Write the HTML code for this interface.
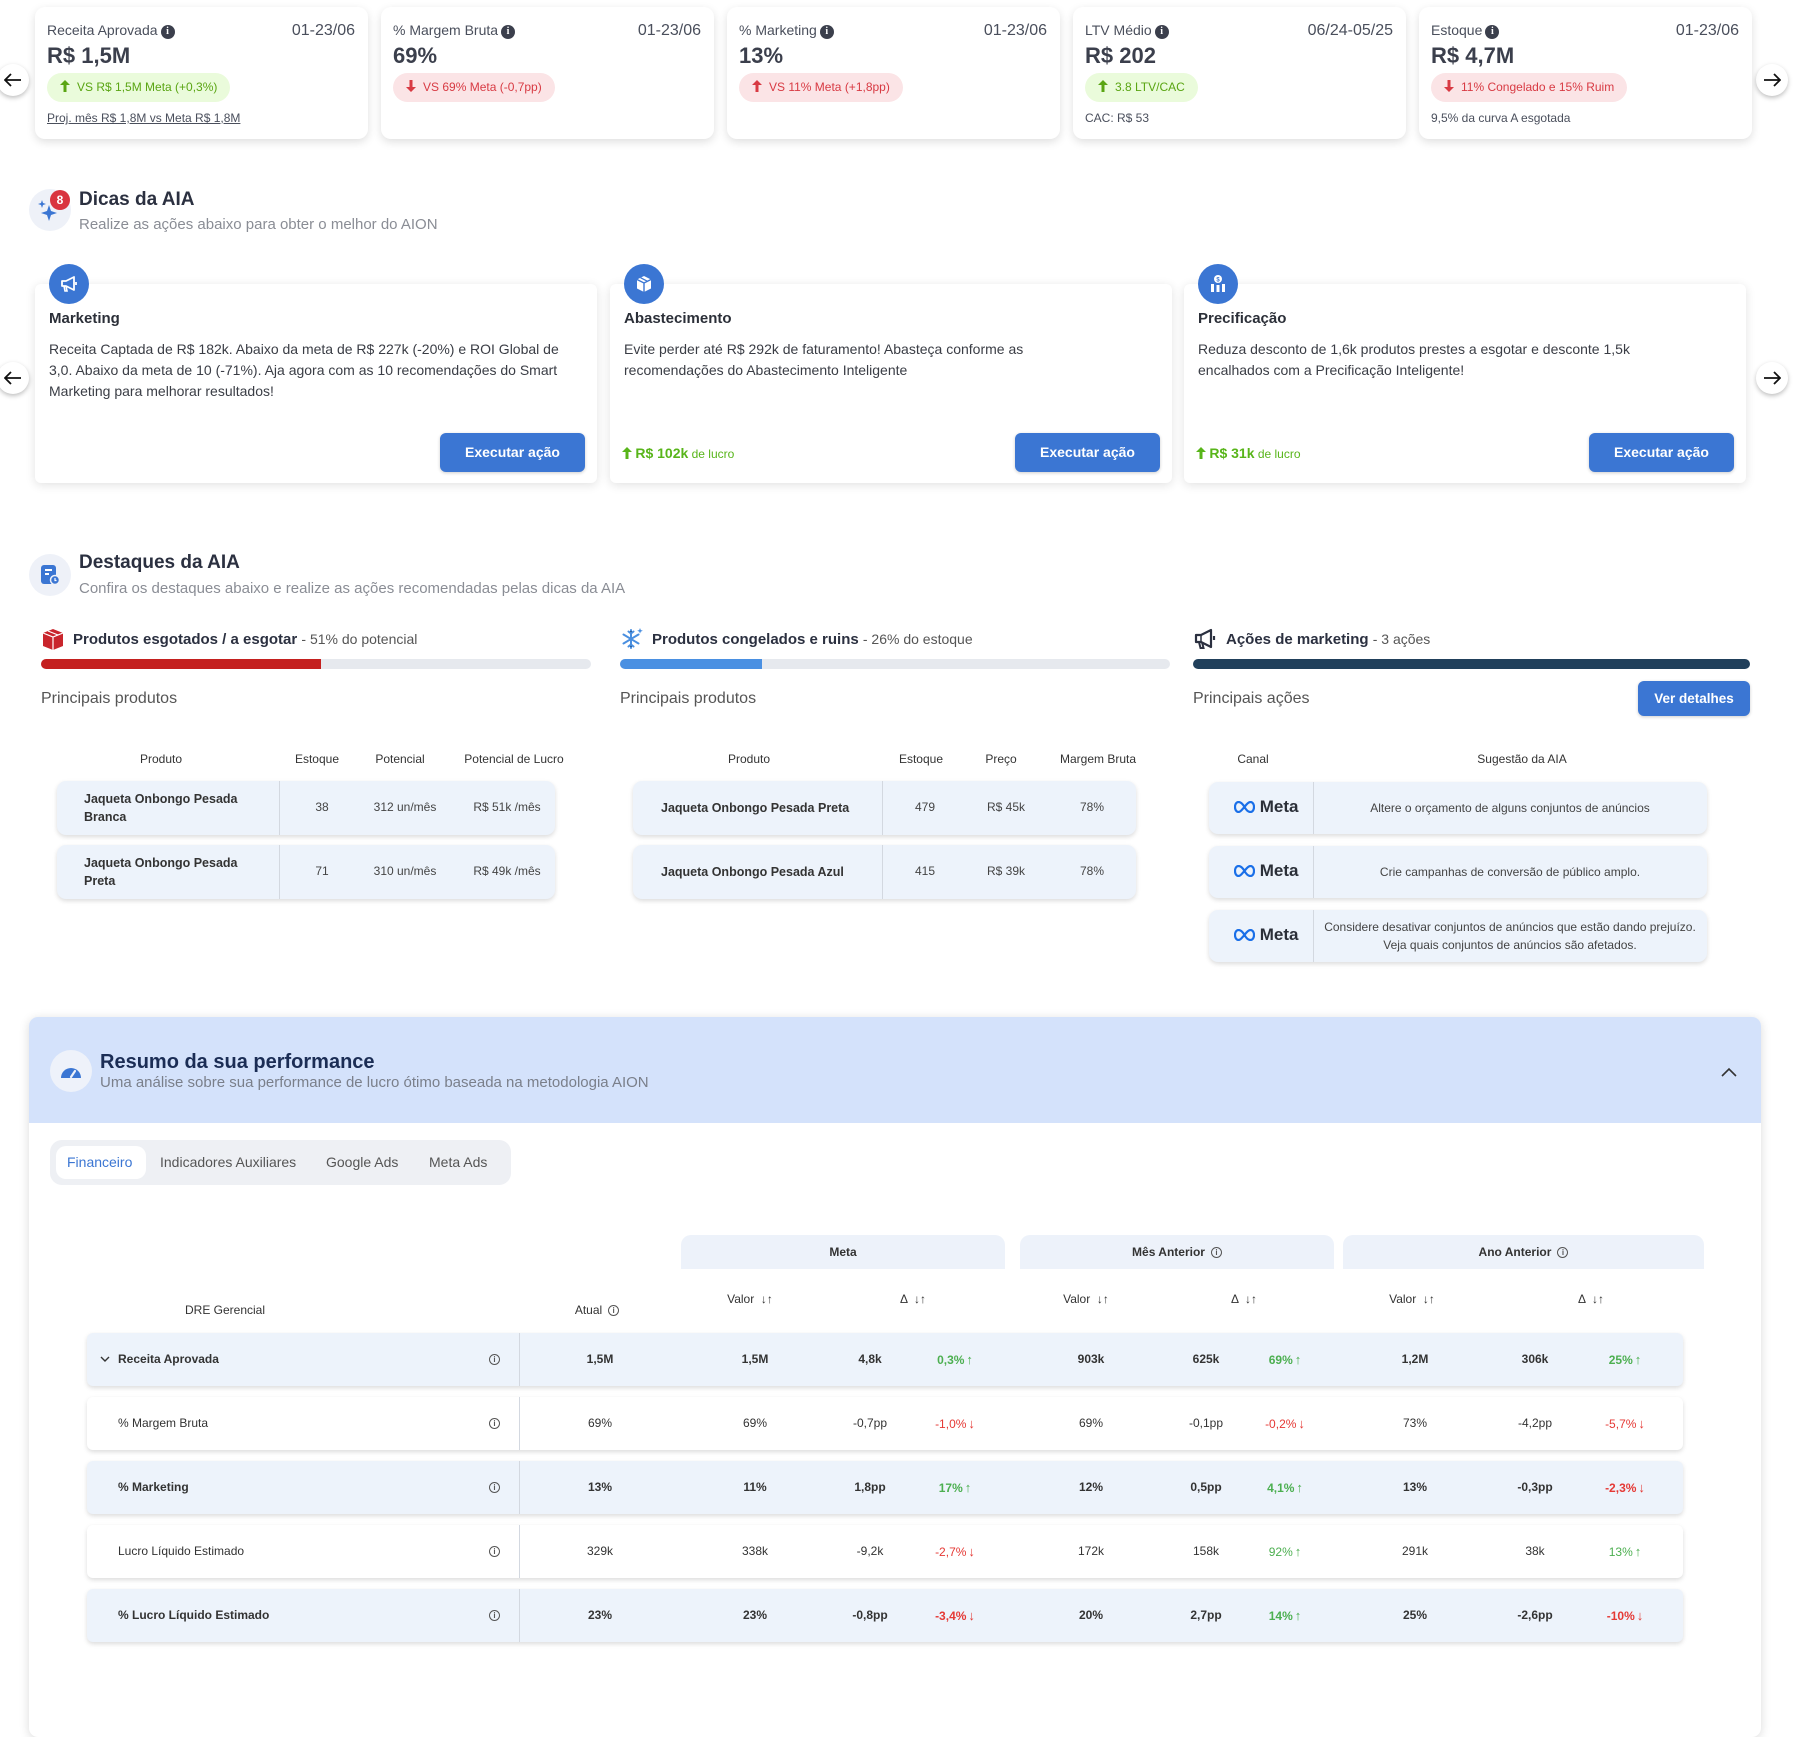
<!DOCTYPE html>
<html><head><meta charset="utf-8">
<style>
*{margin:0;padding:0;box-sizing:border-box}
body{width:1802px;height:1692px;overflow:hidden;background:#fff;font-family:"Liberation Sans",sans-serif;color:#333;position:relative}
.a{position:absolute}
.nav{width:32px;height:32px;border-radius:50%;background:#fff;box-shadow:0 2px 5px rgba(0,0,0,.25);display:flex;align-items:center;justify-content:center}
.kc{top:7px;width:333px;height:132px;background:#fff;border-radius:10px;box-shadow:0 3px 9px rgba(0,0,0,.13)}
.kl{left:12px;top:15px;font-size:14px;color:#4a4f5c;line-height:16px;white-space:nowrap}
.kd{right:13px;top:15px;font-size:16px;color:#4a4f5c;line-height:18px}
.kv{left:12px;top:36px;font-size:22px;font-weight:bold;color:#3b3f4c;line-height:26px}
.pill{left:12px;top:66px;height:29px;border-radius:15px;padding:0 13px 0 13px;font-size:12px;line-height:29px;white-space:nowrap}
.pill svg{vertical-align:-1px;margin-right:7px}
.g{background:#eafbdb;color:#5aa513}
.r{background:#fbe4e6;color:#d83a43}
.kf{left:12px;top:104px;font-size:12px;color:#4a4f5c;line-height:14px;white-space:nowrap}
.ii{display:inline-block;width:14px;height:14px;border-radius:50%;background:#3b3f4c;color:#fff;font-size:10px;font-weight:bold;text-align:center;line-height:14px;vertical-align:1px;margin-left:3px;font-family:"Liberation Serif",serif}
.io{display:inline-block;width:11px;height:11px;border-radius:50%;border:1.2px solid #555;color:#555;font-size:8px;font-weight:bold;text-align:center;line-height:9px;vertical-align:1px;margin-left:6px}
.rio{position:absolute;left:402px;top:21px;width:11px;height:11px;border-radius:50%;border:1.2px solid #555;color:#555;font-size:8px;font-weight:bold;text-align:center;line-height:9px}
.sec-ic{width:42px;height:42px;border-radius:50%;background:#eef1f8;display:flex;align-items:center;justify-content:center}
.h1{font-size:19px;font-weight:bold;color:#2b3040;line-height:24px;white-space:nowrap}
.sub{font-size:15px;color:#8a8d95;line-height:18px;white-space:nowrap}
.dc{top:284px;width:562px;height:199px;background:#fff;border-radius:6px;box-shadow:0 2px 10px rgba(0,0,0,.12)}
.dic{top:-20px;left:14px;width:40px;height:40px;border-radius:50%;background:#3b76d3;display:flex;align-items:center;justify-content:center}
.dt{left:14px;top:25px;font-size:15px;font-weight:bold;color:#2b2f38;line-height:20px}
.db{left:14px;top:55px;font-size:14px;color:#3a3d45;line-height:21px;white-space:nowrap}
.btn{background:#3b76d3;color:#fff;font-size:14px;font-weight:bold;text-align:center;border-radius:6px;box-shadow:0 1px 3px rgba(0,0,0,.2)}
.db2{top:149px;right:12px;width:145px;height:39px;line-height:39px}
.luc{left:12px;top:159px;color:#58b51a;font-size:12px;line-height:20px;white-space:nowrap}
.luc b{font-size:14px}
.ch{font-size:15px;font-weight:bold;color:#2b3040;line-height:20px;white-space:nowrap}
.ch span{font-weight:normal;font-size:14px;color:#555}
.bar{height:10px;border-radius:5px;background:#e6e9ee;overflow:hidden}
.pp{font-size:16px;color:#555;line-height:20px}
.th{font-size:12px;color:#333;line-height:16px;text-align:center;width:140px;white-space:nowrap}
.row{background:#edf3fb;border-radius:9px;box-shadow:0 2px 5px rgba(0,0,0,.14)}
.dv{width:1px;background:#d3d8e0}
.tv{font-size:12px;color:#444;text-align:center;width:120px;white-space:nowrap}
.pn{font-size:12.5px;font-weight:bold;color:#333;line-height:18px;white-space:nowrap}
.perf{left:29px;top:1017px;width:1732px;height:720px;background:#fff;border-radius:9px;box-shadow:0 2px 10px rgba(0,0,0,.15);overflow:hidden}
.gh{top:1235px;height:34px;background:#edf2fa;border-radius:10px 10px 0 0;font-size:12px;font-weight:bold;color:#333;text-align:center;line-height:34px}
.sh{font-size:12px;color:#333;text-align:center;width:120px;line-height:16px;white-space:nowrap}
.prow{left:87px;width:1596px;height:53px;border-radius:6px;box-shadow:0 2px 5px rgba(0,0,0,.14);background:#fff}
.prow.b{background:#edf3fb}
.pl{left:31px;top:0;line-height:53px;font-size:12px;color:#333;white-space:nowrap}
.v{position:absolute;width:120px;text-align:center;font-size:12px;line-height:53px;height:53px;color:#333;white-space:nowrap}
.bd{font-weight:bold}
.gp{color:#4caf50}
.rp{color:#e53935}
.gp i,.rp i{font-style:normal;font-weight:bold;margin-left:2px;font-size:13px}
</style></head><body>

<!-- nav arrows -->
<div class="a nav" style="left:-3px;top:64px"><svg width="18" height="14" viewBox="0 0 18 14"><path d="M17 7H2M7 1L1 7l6 6" stroke="#111" stroke-width="1.8" fill="none"/></svg></div>
<div class="a nav" style="left:1756px;top:64px"><svg width="18" height="14" viewBox="0 0 18 14"><path d="M1 7h15M11 1l6 6-6 6" stroke="#111" stroke-width="1.8" fill="none"/></svg></div>

<!-- KPI cards -->
<div class="a kc" style="left:35px">
 <div class="a kl">Receita Aprovada<span class="ii">i</span></div>
 <div class="a kd">01-23/06</div>
 <div class="a kv">R$ 1,5M</div>
 <div class="a pill g"><svg width="10" height="12" viewBox="0 0 10 12"><path d="M5 0L10 5H6.5V12H3.5V5H0Z" fill="#5aa513"/></svg>VS R$ 1,5M Meta (+0,3%)</div>
 <div class="a kf" style="text-decoration:underline">Proj. mês R$ 1,8M vs Meta R$ 1,8M</div>
</div>
<div class="a kc" style="left:381px">
 <div class="a kl">% Margem Bruta<span class="ii">i</span></div>
 <div class="a kd">01-23/06</div>
 <div class="a kv">69%</div>
 <div class="a pill r"><svg width="10" height="12" viewBox="0 0 10 12"><path d="M5 12L10 7H6.5V0H3.5V7H0Z" fill="#d83a43"/></svg>VS 69% Meta (-0,7pp)</div>
</div>
<div class="a kc" style="left:727px">
 <div class="a kl">% Marketing<span class="ii">i</span></div>
 <div class="a kd">01-23/06</div>
 <div class="a kv">13%</div>
 <div class="a pill r"><svg width="10" height="12" viewBox="0 0 10 12"><path d="M5 0L10 5H6.5V12H3.5V5H0Z" fill="#d83a43"/></svg>VS 11% Meta (+1,8pp)</div>
</div>
<div class="a kc" style="left:1073px">
 <div class="a kl">LTV Médio<span class="ii">i</span></div>
 <div class="a kd">06/24-05/25</div>
 <div class="a kv">R$ 202</div>
 <div class="a pill g"><svg width="10" height="12" viewBox="0 0 10 12"><path d="M5 0L10 5H6.5V12H3.5V5H0Z" fill="#5aa513"/></svg>3.8 LTV/CAC</div>
 <div class="a kf">CAC: R$ 53</div>
</div>
<div class="a kc" style="left:1419px">
 <div class="a kl">Estoque<span class="ii">i</span></div>
 <div class="a kd">01-23/06</div>
 <div class="a kv">R$ 4,7M</div>
 <div class="a pill r"><svg width="10" height="12" viewBox="0 0 10 12"><path d="M5 12L10 7H6.5V0H3.5V7H0Z" fill="#d83a43"/></svg>11% Congelado e 15% Ruim</div>
 <div class="a kf">9,5% da curva A esgotada</div>
</div>

<!-- Dicas da AIA -->
<div class="a sec-ic" style="left:29px;top:189px"><svg width="26" height="26" viewBox="0 0 26 26"><path d="M12 8 L14 14 L20 16 L14 18 L12 24 L10 18 L4 16 L10 14Z" fill="#3b76d3"/><path d="M5 3 L6 6 L9 7 L6 8 L5 11 L4 8 L1 7 L4 6Z" fill="#3b76d3"/></svg></div>
<div class="a" style="left:50px;top:190px;width:20px;height:20px;border-radius:50%;background:#d9343f;color:#fff;font-size:12px;font-weight:bold;text-align:center;line-height:20px">8</div>
<div class="a h1" style="left:79px;top:188px">Dicas da AIA</div>
<div class="a sub" style="left:79px;top:216px">Realize as ações abaixo para obter o melhor do AION</div>

<div class="a nav" style="left:-3px;top:362px"><svg width="18" height="14" viewBox="0 0 18 14"><path d="M17 7H2M7 1L1 7l6 6" stroke="#111" stroke-width="1.8" fill="none"/></svg></div>
<div class="a nav" style="left:1756px;top:362px"><svg width="18" height="14" viewBox="0 0 18 14"><path d="M1 7h15M11 1l6 6-6 6" stroke="#111" stroke-width="1.8" fill="none"/></svg></div>

<div class="a dc" style="left:35px">
 <div class="a dic"><svg width="20" height="18" viewBox="0 0 20 18"><path d="M3 6h4l8-4v13l-8-4H3z" fill="none" stroke="#fff" stroke-width="1.8" stroke-linejoin="round"/><path d="M5 11l1 5h2l-1-5" fill="none" stroke="#fff" stroke-width="1.6"/><path d="M17 7v3" stroke="#fff" stroke-width="1.8"/></svg></div>
 <div class="a dt">Marketing</div>
 <div class="a db">Receita Captada de R$ 182k. Abaixo da meta de R$ 227k (-20%) e ROI Global de<br>3,0. Abaixo da meta de 10 (-71%). Aja agora com as 10 recomendações do Smart<br>Marketing para melhorar resultados!</div>
 <div class="a btn db2">Executar ação</div>
</div>
<div class="a dc" style="left:610px">
 <div class="a dic"><svg width="20" height="20" viewBox="0 0 20 20"><path d="M10 2l7 3.5v9L10 18l-7-3.5v-9z" fill="#fff"/><path d="M3 5.5L10 9l7-3.5M10 9v9" stroke="#3b76d3" stroke-width="1.4" fill="none"/><path d="M6.5 3.7l7 3.6" stroke="#3b76d3" stroke-width="1.2"/></svg></div>
 <div class="a dt">Abastecimento</div>
 <div class="a db">Evite perder até R$ 292k de faturamento! Abasteça conforme as<br>recomendações do Abastecimento Inteligente</div>
 <div class="a luc"><svg width="10" height="12" viewBox="0 0 10 12" style="vertical-align:-1px"><path d="M5 0L10 5H6.5V12H3.5V5H0Z" fill="#58b51a"/></svg> <b>R$ 102k</b> de lucro</div>
 <div class="a btn db2">Executar ação</div>
</div>
<div class="a dc" style="left:1184px">
 <div class="a dic"><svg width="20" height="20" viewBox="0 0 20 20"><circle cx="10" cy="5" r="4" fill="#fff"/><text x="10" y="7.5" font-size="6" font-weight="bold" text-anchor="middle" fill="#3b76d3" font-family="Liberation Sans">$</text><rect x="3" y="10" width="3" height="8" fill="#fff"/><rect x="8.5" y="11" width="3" height="7" fill="#fff"/><rect x="14" y="10" width="3" height="8" fill="#fff"/></svg></div>
 <div class="a dt">Precificação</div>
 <div class="a db">Reduza desconto de 1,6k produtos prestes a esgotar e desconte 1,5k<br>encalhados com a Precificação Inteligente!</div>
 <div class="a luc"><svg width="10" height="12" viewBox="0 0 10 12" style="vertical-align:-1px"><path d="M5 0L10 5H6.5V12H3.5V5H0Z" fill="#58b51a"/></svg> <b>R$ 31k</b> de lucro</div>
 <div class="a btn db2">Executar ação</div>
</div>

<!-- Destaques da AIA -->
<div class="a sec-ic" style="left:29px;top:554px"><svg width="20" height="22" viewBox="0 0 20 22"><rect x="1" y="1" width="15" height="19" rx="3" fill="#3b76d3"/><path d="M5 6h7M5 10h4" stroke="#fff" stroke-width="2"/><circle cx="15" cy="16" r="4.5" fill="#3b76d3" stroke="#eef1f8" stroke-width="1.5"/><path d="M15 14v2.5h1.5" stroke="#fff" stroke-width="1.2" fill="none"/></svg></div>
<div class="a h1" style="left:79px;top:551px">Destaques da AIA</div>
<div class="a sub" style="left:79px;top:580px">Confira os destaques abaixo e realize as ações recomendadas pelas dicas da AIA</div>

<!-- col1 -->
<div class="a" style="left:41px;top:627px"><svg width="24" height="24" viewBox="0 0 24 24"><path d="M12 2l10 4v13l-10 4-10-4V6z" fill="#c9252c"/><path d="M2 6l10 4 10-4M12 10v13" stroke="#fff" stroke-width="1.2" fill="none"/><path d="M7 4l10 4" stroke="#fff" stroke-width="1.2"/></svg></div>
<div class="a ch" style="left:73px;top:629px">Produtos esgotados / a esgotar <span>- 51% do potencial</span></div>
<div class="a bar" style="left:41px;top:659px;width:550px"><div style="width:280px;height:10px;background:#c4201f"></div></div>
<div class="a pp" style="left:41px;top:689px">Principais produtos</div>
<div class="a th" style="left:91px;top:751px">Produto</div>
<div class="a th" style="left:247px;top:751px">Estoque</div>
<div class="a th" style="left:330px;top:751px">Potencial</div>
<div class="a th" style="left:444px;top:751px">Potencial de Lucro</div>
<div class="a row" style="left:57px;top:781px;width:498px;height:54px"></div>
<div class="a dv" style="left:279px;top:781px;height:54px"></div>
<div class="a pn" style="left:84px;top:790px">Jaqueta Onbongo Pesada<br>Branca</div>
<div class="a tv" style="left:262px;top:800px">38</div>
<div class="a tv" style="left:345px;top:800px">312 un/mês</div>
<div class="a tv" style="left:447px;top:800px">R$ 51k /mês</div>
<div class="a row" style="left:57px;top:845px;width:498px;height:54px"></div>
<div class="a dv" style="left:279px;top:845px;height:54px"></div>
<div class="a pn" style="left:84px;top:854px">Jaqueta Onbongo Pesada<br>Preta</div>
<div class="a tv" style="left:262px;top:864px">71</div>
<div class="a tv" style="left:345px;top:864px">310 un/mês</div>
<div class="a tv" style="left:447px;top:864px">R$ 49k /mês</div>

<!-- col2 -->
<div class="a" style="left:620px;top:627px"><svg width="24" height="24" viewBox="0 0 24 24"><g stroke="#4a8fe0" stroke-width="2" stroke-linecap="round"><path d="M11 3v18M3.5 7.5l15 9M3.5 16.5l15-9"/><path d="M8.5 4.5L11 6.5l2.5-2M8.5 19.5L11 17.5l2.5 2"/></g><path d="M20 1l.8 2 2 .8-2 .8-.8 2-.8-2-2-.8 2-.8z" fill="#4a8fe0"/></svg></div>
<div class="a ch" style="left:652px;top:629px">Produtos congelados e ruins <span>- 26% do estoque</span></div>
<div class="a bar" style="left:620px;top:659px;width:550px"><div style="width:142px;height:10px;background:#4a90e2"></div></div>
<div class="a pp" style="left:620px;top:689px">Principais produtos</div>
<div class="a th" style="left:679px;top:751px">Produto</div>
<div class="a th" style="left:851px;top:751px">Estoque</div>
<div class="a th" style="left:931px;top:751px">Preço</div>
<div class="a th" style="left:1028px;top:751px">Margem Bruta</div>
<div class="a row" style="left:633px;top:781px;width:503px;height:54px"></div>
<div class="a dv" style="left:882px;top:781px;height:54px"></div>
<div class="a pn" style="left:661px;top:799px">Jaqueta Onbongo Pesada Preta</div>
<div class="a tv" style="left:865px;top:800px">479</div>
<div class="a tv" style="left:946px;top:800px">R$ 45k</div>
<div class="a tv" style="left:1032px;top:800px">78%</div>
<div class="a row" style="left:633px;top:845px;width:503px;height:54px"></div>
<div class="a dv" style="left:882px;top:845px;height:54px"></div>
<div class="a pn" style="left:661px;top:863px">Jaqueta Onbongo Pesada Azul</div>
<div class="a tv" style="left:865px;top:864px">415</div>
<div class="a tv" style="left:946px;top:864px">R$ 39k</div>
<div class="a tv" style="left:1032px;top:864px">78%</div>

<!-- col3 -->
<div class="a" style="left:1193px;top:628px"><svg width="24" height="22" viewBox="0 0 24 22"><path d="M3 7h5l10-5v17L8 14H3z" fill="none" stroke="#2b3040" stroke-width="2.2" stroke-linejoin="round"/><path d="M6 14l1.5 6h3L9 14" fill="none" stroke="#2b3040" stroke-width="2"/><path d="M21 8v4" stroke="#2b3040" stroke-width="2.2"/><path d="M8 7v7" stroke="#2b3040" stroke-width="1.5"/></svg></div>
<div class="a ch" style="left:1226px;top:629px">Ações de marketing <span>- 3 ações</span></div>
<div class="a bar" style="left:1193px;top:659px;width:557px;background:#21405b"></div>
<div class="a pp" style="left:1193px;top:689px">Principais ações</div>
<div class="a btn" style="left:1638px;top:681px;width:112px;height:35px;line-height:35px;font-size:13.5px">Ver detalhes</div>
<div class="a th" style="left:1183px;top:751px">Canal</div>
<div class="a th" style="left:1452px;top:751px">Sugestão da AIA</div>

<div class="a row" style="left:1209px;top:782px;width:498px;height:52px"></div>
<div class="a dv" style="left:1313px;top:782px;height:52px"></div>
<div class="a" style="left:1234px;top:796px;font-size:17px;font-weight:bold;color:#2b2f38;line-height:22px;white-space:nowrap"><svg width="21" height="12" viewBox="0 0 21 12" style="vertical-align:-1px"><path d="M10.5 6C8 1.5 6 1 4.5 1 2.5 1 1 3 1 6s1.5 5 3.5 5C7 11 9 7 10.5 6 12 4 14 1 16.5 1 18.5 1 20 3 20 6s-1.5 5-3.5 5C15 11 13 10.5 10.5 6z" fill="none" stroke="#1a6fe8" stroke-width="2.2"/></svg> Meta</div>
<div class="a" style="left:1313px;top:782px;width:394px;height:52px;display:flex;align-items:center;justify-content:center;text-align:center;font-size:12px;color:#444;line-height:18px">Altere o orçamento de alguns conjuntos de anúncios</div>

<div class="a row" style="left:1209px;top:846px;width:498px;height:52px"></div>
<div class="a dv" style="left:1313px;top:846px;height:52px"></div>
<div class="a" style="left:1234px;top:860px;font-size:17px;font-weight:bold;color:#2b2f38;line-height:22px;white-space:nowrap"><svg width="21" height="12" viewBox="0 0 21 12" style="vertical-align:-1px"><path d="M10.5 6C8 1.5 6 1 4.5 1 2.5 1 1 3 1 6s1.5 5 3.5 5C7 11 9 7 10.5 6 12 4 14 1 16.5 1 18.5 1 20 3 20 6s-1.5 5-3.5 5C15 11 13 10.5 10.5 6z" fill="none" stroke="#1a6fe8" stroke-width="2.2"/></svg> Meta</div>
<div class="a" style="left:1313px;top:846px;width:394px;height:52px;display:flex;align-items:center;justify-content:center;text-align:center;font-size:12px;color:#444;line-height:18px">Crie campanhas de conversão de público amplo.</div>

<div class="a row" style="left:1209px;top:910px;width:498px;height:52px"></div>
<div class="a dv" style="left:1313px;top:910px;height:52px"></div>
<div class="a" style="left:1234px;top:924px;font-size:17px;font-weight:bold;color:#2b2f38;line-height:22px;white-space:nowrap"><svg width="21" height="12" viewBox="0 0 21 12" style="vertical-align:-1px"><path d="M10.5 6C8 1.5 6 1 4.5 1 2.5 1 1 3 1 6s1.5 5 3.5 5C7 11 9 7 10.5 6 12 4 14 1 16.5 1 18.5 1 20 3 20 6s-1.5 5-3.5 5C15 11 13 10.5 10.5 6z" fill="none" stroke="#1a6fe8" stroke-width="2.2"/></svg> Meta</div>
<div class="a" style="left:1313px;top:910px;width:394px;height:52px;display:flex;align-items:center;justify-content:center;text-align:center;font-size:12px;color:#444;line-height:18px;white-space:nowrap">Considere desativar conjuntos de anúncios que estão dando prejuízo.<br>Veja quais conjuntos de anúncios são afetados.</div>

<!-- Performance -->
<div class="a perf">
 <div class="a" style="left:0;top:0;width:1732px;height:106px;background:#d4e2fb"></div>
 <div class="a sec-ic" style="left:21px;top:33px;background:#eef2fa"><svg width="24" height="16" viewBox="0 0 24 16"><path d="M2 15A10 10 0 0 1 22 15Z" fill="#3b76d3"/><path d="M12 14l4-6" stroke="#eef2fa" stroke-width="2.2" stroke-linecap="round"/></svg></div>
 <div class="a" style="left:71px;top:33px;font-size:20px;font-weight:bold;color:#1b2d55;line-height:24px;white-space:nowrap">Resumo da sua performance</div>
 <div class="a" style="left:71px;top:57px;font-size:15px;color:#7a7f8a;line-height:18px;white-space:nowrap">Uma análise sobre sua performance de lucro ótimo baseada na metodologia AION</div>
 <div class="a" style="left:1692px;top:47px"><svg width="16" height="10" viewBox="0 0 16 10"><path d="M1 9l7-7 7 7" stroke="#333" stroke-width="1.6" fill="none"/></svg></div>
 <div class="a" style="left:21px;top:123px;width:461px;height:45px;border-radius:12px;background:#eef0f4"></div>
 <div class="a" style="left:27px;top:129px;width:90px;height:33px;border-radius:10px;background:#fff"></div>
 <div class="a" style="left:38px;top:137px;font-size:14px;color:#3b76d3;line-height:17px">Financeiro</div>
 <div class="a" style="left:131px;top:137px;font-size:14px;color:#555;line-height:17px;white-space:nowrap">Indicadores Auxiliares</div>
 <div class="a" style="left:297px;top:137px;font-size:14px;color:#555;line-height:17px;white-space:nowrap">Google Ads</div>
 <div class="a" style="left:400px;top:137px;font-size:14px;color:#555;line-height:17px;white-space:nowrap">Meta Ads</div>
</div>

<div class="a gh" style="left:681px;width:324px">Meta</div>
<div class="a gh" style="left:1020px;width:314px">Mês Anterior<span class="io">i</span></div>
<div class="a gh" style="left:1343px;width:361px">Ano Anterior<span class="io">i</span></div>

<div class="a sh" style="left:165px;top:1302px">DRE Gerencial</div>
<div class="a sh" style="left:537px;top:1302px">Atual<span class="io">i</span></div>
<div class="a sh" style="left:690px;top:1291px">Valor &nbsp;↓↑</div>
<div class="a sh" style="left:853px;top:1291px">Δ &nbsp;↓↑</div>
<div class="a sh" style="left:1026px;top:1291px">Valor &nbsp;↓↑</div>
<div class="a sh" style="left:1184px;top:1291px">Δ &nbsp;↓↑</div>
<div class="a sh" style="left:1352px;top:1291px">Valor &nbsp;↓↑</div>
<div class="a sh" style="left:1531px;top:1291px">Δ &nbsp;↓↑</div>

<!-- rows -->
<div class="a prow b" style="top:1333px"><svg class="a" style="left:13px;top:23px" width="10" height="7" viewBox="0 0 10 7"><path d="M1 1l4 4 4-4" stroke="#333" stroke-width="1.4" fill="none"/></svg><div class="a pl bd">Receita Aprovada</div><div class="a dv" style="left:432px;top:0;height:53px"></div><div class="rio">i</div></div>
<div class="a prow" style="top:1397px"><div class="a pl">% Margem Bruta</div><div class="a dv" style="left:432px;top:0;height:53px"></div><div class="rio">i</div></div>
<div class="a prow b" style="top:1461px"><div class="a pl bd">% Marketing</div><div class="a dv" style="left:432px;top:0;height:53px"></div><div class="rio">i</div></div>
<div class="a prow" style="top:1525px"><div class="a pl">Lucro Líquido Estimado</div><div class="a dv" style="left:432px;top:0;height:53px"></div><div class="rio">i</div></div>
<div class="a prow b" style="top:1589px"><div class="a pl bd">% Lucro Líquido Estimado</div><div class="a dv" style="left:432px;top:0;height:53px"></div><div class="rio">i</div></div>

<!-- row1 values -->
<div class="v bd" style="left:540px;top:1333px">1,5M</div>
<div class="v bd" style="left:695px;top:1333px">1,5M</div>
<div class="v bd" style="left:810px;top:1333px">4,8k</div>
<div class="v bd gp" style="left:895px;top:1333px">0,3%<i>↑</i></div>
<div class="v bd" style="left:1031px;top:1333px">903k</div>
<div class="v bd" style="left:1146px;top:1333px">625k</div>
<div class="v bd gp" style="left:1225px;top:1333px">69%<i>↑</i></div>
<div class="v bd" style="left:1355px;top:1333px">1,2M</div>
<div class="v bd" style="left:1475px;top:1333px">306k</div>
<div class="v bd gp" style="left:1565px;top:1333px">25%<i>↑</i></div>
<!-- row2 -->
<div class="v" style="left:540px;top:1397px">69%</div>
<div class="v" style="left:695px;top:1397px">69%</div>
<div class="v" style="left:810px;top:1397px">-0,7pp</div>
<div class="v rp" style="left:895px;top:1397px">-1,0%<i>↓</i></div>
<div class="v" style="left:1031px;top:1397px">69%</div>
<div class="v" style="left:1146px;top:1397px">-0,1pp</div>
<div class="v rp" style="left:1225px;top:1397px">-0,2%<i>↓</i></div>
<div class="v" style="left:1355px;top:1397px">73%</div>
<div class="v" style="left:1475px;top:1397px">-4,2pp</div>
<div class="v rp" style="left:1565px;top:1397px">-5,7%<i>↓</i></div>
<!-- row3 -->
<div class="v bd" style="left:540px;top:1461px">13%</div>
<div class="v bd" style="left:695px;top:1461px">11%</div>
<div class="v bd" style="left:810px;top:1461px">1,8pp</div>
<div class="v bd gp" style="left:895px;top:1461px">17%<i>↑</i></div>
<div class="v bd" style="left:1031px;top:1461px">12%</div>
<div class="v bd" style="left:1146px;top:1461px">0,5pp</div>
<div class="v bd gp" style="left:1225px;top:1461px">4,1%<i>↑</i></div>
<div class="v bd" style="left:1355px;top:1461px">13%</div>
<div class="v bd" style="left:1475px;top:1461px">-0,3pp</div>
<div class="v bd rp" style="left:1565px;top:1461px">-2,3%<i>↓</i></div>
<!-- row4 -->
<div class="v" style="left:540px;top:1525px">329k</div>
<div class="v" style="left:695px;top:1525px">338k</div>
<div class="v" style="left:810px;top:1525px">-9,2k</div>
<div class="v rp" style="left:895px;top:1525px">-2,7%<i>↓</i></div>
<div class="v" style="left:1031px;top:1525px">172k</div>
<div class="v" style="left:1146px;top:1525px">158k</div>
<div class="v gp" style="left:1225px;top:1525px">92%<i>↑</i></div>
<div class="v" style="left:1355px;top:1525px">291k</div>
<div class="v" style="left:1475px;top:1525px">38k</div>
<div class="v gp" style="left:1565px;top:1525px">13%<i>↑</i></div>
<!-- row5 -->
<div class="v bd" style="left:540px;top:1589px">23%</div>
<div class="v bd" style="left:695px;top:1589px">23%</div>
<div class="v bd" style="left:810px;top:1589px">-0,8pp</div>
<div class="v bd rp" style="left:895px;top:1589px">-3,4%<i>↓</i></div>
<div class="v bd" style="left:1031px;top:1589px">20%</div>
<div class="v bd" style="left:1146px;top:1589px">2,7pp</div>
<div class="v bd gp" style="left:1225px;top:1589px">14%<i>↑</i></div>
<div class="v bd" style="left:1355px;top:1589px">25%</div>
<div class="v bd" style="left:1475px;top:1589px">-2,6pp</div>
<div class="v bd rp" style="left:1565px;top:1589px">-10%<i>↓</i></div>

</body></html>
